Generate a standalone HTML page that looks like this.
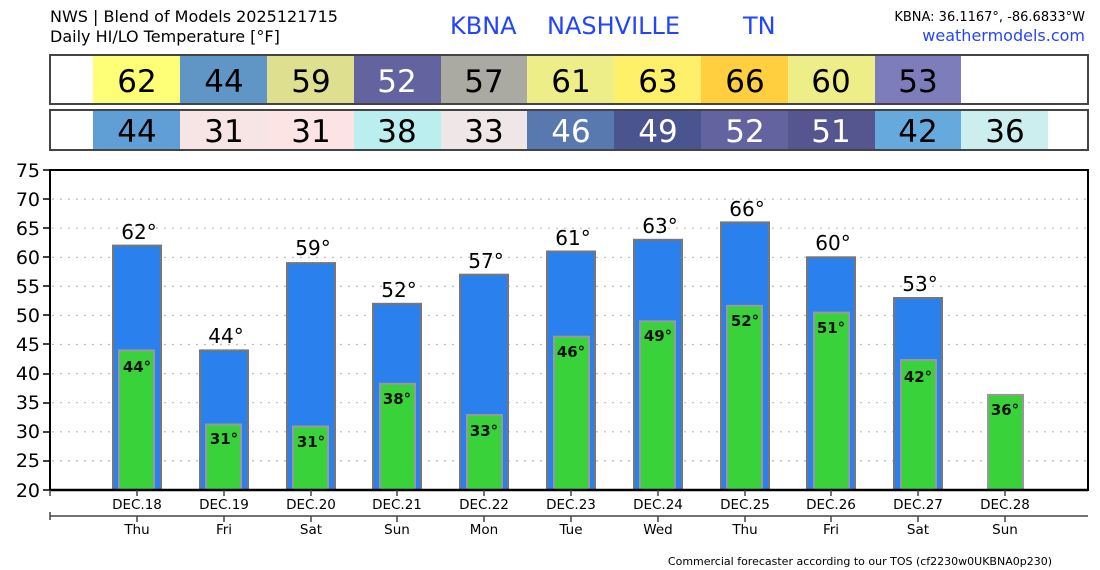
<!DOCTYPE html>
<html><head><meta charset="utf-8"><style>body{margin:0;background:#fff}svg{display:block}text{font-family:"DejaVu Sans","Liberation Sans",sans-serif}</style></head><body>
<svg width="1100" height="570" xmlns="http://www.w3.org/2000/svg">
<text x="50" y="22" font-size="16">NWS | Blend of Models 2025121715</text>
<text x="50" y="42" font-size="16">Daily HI/LO Temperature [°F]</text>
<text x="450" y="34" font-size="24" fill="#2244ff">KBNA</text>
<text x="547" y="34" font-size="24" fill="#2244ff">NASHVILLE</text>
<text x="743" y="34" font-size="24" fill="#2244ff">TN</text>
<text x="1085" y="21" font-size="13" text-anchor="end">KBNA: 36.1167°, -86.6833°W</text>
<text x="1085" y="41" font-size="16" text-anchor="end" fill="#2244ff">weathermodels.com</text>
<g id="t">
<rect x="50" y="55" width="1038" height="49" fill="#fff" stroke="#444" stroke-width="2"/>
<rect x="50" y="110" width="1038" height="40" fill="#fff" stroke="#444" stroke-width="2"/>
<g font-size="31" text-anchor="middle">
<rect x="93" y="56" width="87" height="47" fill="#ffff77"/><text x="137" y="92">62</text>
<rect x="180" y="56" width="87" height="47" fill="#6096c6"/><text x="224" y="92">44</text>
<rect x="267" y="56" width="87" height="47" fill="#dfdf90"/><text x="311" y="92">59</text>
<rect x="354" y="56" width="87" height="47" fill="#63639f"/><text x="397" y="92" fill="#fff">52</text>
<rect x="441" y="56" width="87" height="47" fill="#aaaaa2"/><text x="484" y="92">57</text>
<rect x="527" y="56" width="87" height="47" fill="#eeee88"/><text x="571" y="92">61</text>
<rect x="614" y="56" width="87" height="47" fill="#fff06a"/><text x="658" y="92">63</text>
<rect x="701" y="56" width="87" height="47" fill="#ffcf40"/><text x="745" y="92">66</text>
<rect x="788" y="56" width="87" height="47" fill="#eeee88"/><text x="831" y="92">60</text>
<rect x="875" y="56" width="86" height="47" fill="#7d7dbc"/><text x="918" y="92">53</text>
<rect x="93" y="111" width="87" height="38" fill="#5f9fd6"/><text x="137" y="142">44</text>
<rect x="180" y="111" width="87" height="38" fill="#f7e5e5"/><text x="224" y="142">31</text>
<rect x="267" y="111" width="87" height="38" fill="#fde4e4"/><text x="311" y="142">31</text>
<rect x="354" y="111" width="87" height="38" fill="#bbeeee"/><text x="397" y="142">38</text>
<rect x="441" y="111" width="87" height="38" fill="#efe7e7"/><text x="484" y="142">33</text>
<rect x="527" y="111" width="87" height="38" fill="#5878b0"/><text x="571" y="142" fill="#fff">46</text>
<rect x="614" y="111" width="87" height="38" fill="#4a5590"/><text x="658" y="142" fill="#fff">49</text>
<rect x="701" y="111" width="87" height="38" fill="#63639f"/><text x="745" y="142" fill="#fff">52</text>
<rect x="788" y="111" width="87" height="38" fill="#555590"/><text x="831" y="142" fill="#fff">51</text>
<rect x="875" y="111" width="86" height="38" fill="#66aadd"/><text x="918" y="142">42</text>
<rect x="961" y="111" width="87" height="38" fill="#cceeee"/><text x="1005" y="142">36</text>
</g></g>
<g stroke="#bbb" stroke-dasharray="2,6" stroke-width="1.2">
<line x1="52" x2="1087" y1="199.1" y2="199.1"/><line x1="52" x2="1087" y1="228.2" y2="228.2"/><line x1="52" x2="1087" y1="257.3" y2="257.3"/><line x1="52" x2="1087" y1="286.4" y2="286.4"/><line x1="52" x2="1087" y1="315.5" y2="315.5"/><line x1="52" x2="1087" y1="344.5" y2="344.5"/><line x1="52" x2="1087" y1="373.6" y2="373.6"/><line x1="52" x2="1087" y1="402.7" y2="402.7"/><line x1="52" x2="1087" y1="431.8" y2="431.8"/><line x1="52" x2="1087" y1="460.9" y2="460.9"/>
</g>
<g font-size="19" text-anchor="end">
<text x="40" y="177">75</text><text x="40" y="206">70</text><text x="40" y="235">65</text><text x="40" y="264">60</text><text x="40" y="293">55</text><text x="40" y="322">50</text><text x="40" y="351">45</text><text x="40" y="380">40</text><text x="40" y="409">35</text><text x="40" y="438">30</text><text x="40" y="467">25</text><text x="40" y="497">20</text>
</g>
<g stroke="#000" stroke-width="1.5"><line x1="43" x2="50" y1="170" y2="170"/><line x1="43" x2="50" y1="199" y2="199"/><line x1="43" x2="50" y1="228" y2="228"/><line x1="43" x2="50" y1="257" y2="257"/><line x1="43" x2="50" y1="286" y2="286"/><line x1="43" x2="50" y1="315" y2="315"/><line x1="43" x2="50" y1="344" y2="344"/><line x1="43" x2="50" y1="374" y2="374"/><line x1="43" x2="50" y1="403" y2="403"/><line x1="43" x2="50" y1="432" y2="432"/><line x1="43" x2="50" y1="461" y2="461"/><line x1="43" x2="50" y1="490" y2="490"/></g>
<g stroke="#777" stroke-width="2" fill="#2a80ec">
<rect x="113" y="245.6" width="48" height="244.4"/><rect x="200" y="350.4" width="48" height="139.6"/><rect x="287" y="263.1" width="48" height="226.9"/><rect x="373" y="303.8" width="48" height="186.2"/><rect x="460" y="274.7" width="48" height="215.3"/><rect x="547" y="251.5" width="48" height="238.5"/><rect x="634" y="239.8" width="48" height="250.2"/><rect x="721" y="222.4" width="48" height="267.6"/><rect x="807" y="257.3" width="48" height="232.7"/><rect x="894" y="298" width="48" height="192"/>
</g>
<g stroke="#999" stroke-width="2" fill="#3ad23a">
<rect x="119" y="350.4" width="35" height="139.6"/><rect x="206" y="424.5" width="35" height="65.5"/><rect x="293" y="426.5" width="35" height="63.5"/><rect x="380" y="383.8" width="35" height="106.2"/><rect x="467" y="415" width="35" height="75"/><rect x="554" y="336.7" width="35" height="153.3"/><rect x="640" y="321.3" width="35" height="168.7"/><rect x="727" y="305.8" width="35" height="184.2"/><rect x="814" y="312.6" width="35" height="177.4"/><rect x="901" y="360" width="35" height="130"/><rect x="988" y="394.9" width="35" height="95.1"/>
</g>
<g font-size="20" text-anchor="middle">
<text x="139" y="239">62°</text><text x="226" y="343">44°</text><text x="313" y="255">59°</text><text x="399" y="297">52°</text><text x="486" y="268">57°</text><text x="573" y="245">61°</text><text x="660" y="233">63°</text><text x="747" y="216">66°</text><text x="833" y="250">60°</text><text x="920" y="291">53°</text>
</g>
<g font-size="15" text-anchor="middle" font-weight="bold" fill="#111">
<text x="137" y="372">44°</text><text x="224" y="444">31°</text><text x="311" y="447">31°</text><text x="397" y="404">38°</text><text x="484" y="436">33°</text><text x="571" y="357">46°</text><text x="658" y="341">49°</text><text x="745" y="326">52°</text><text x="831" y="333">51°</text><text x="918" y="382">42°</text><text x="1005" y="415">36°</text>
</g>
<rect x="50" y="170" width="1038" height="320" fill="none" stroke="#000" stroke-width="2"/>
<line x1="50" x2="1088" y1="490" y2="490" stroke="#000" stroke-width="2.5"/>
<g stroke="#444" stroke-width="1.5">
<line x1="50" x2="50" y1="490" y2="496"/><line x1="50" x2="1088" y1="516" y2="516"/><line x1="50" x2="50" y1="512" y2="520"/>
<line x1="137" x2="137" y1="490" y2="496"/><line x1="224" x2="224" y1="490" y2="496"/><line x1="311" x2="311" y1="490" y2="496"/><line x1="397" x2="397" y1="490" y2="496"/><line x1="484" x2="484" y1="490" y2="496"/><line x1="571" x2="571" y1="490" y2="496"/><line x1="658" x2="658" y1="490" y2="496"/><line x1="745" x2="745" y1="490" y2="496"/><line x1="831" x2="831" y1="490" y2="496"/><line x1="918" x2="918" y1="490" y2="496"/><line x1="1005" x2="1005" y1="490" y2="496"/>
<line x1="137" x2="137" y1="516" y2="522"/><line x1="224" x2="224" y1="516" y2="522"/><line x1="311" x2="311" y1="516" y2="522"/><line x1="397" x2="397" y1="516" y2="522"/><line x1="484" x2="484" y1="516" y2="522"/><line x1="571" x2="571" y1="516" y2="522"/><line x1="658" x2="658" y1="516" y2="522"/><line x1="745" x2="745" y1="516" y2="522"/><line x1="831" x2="831" y1="516" y2="522"/><line x1="918" x2="918" y1="516" y2="522"/><line x1="1005" x2="1005" y1="516" y2="522"/>
</g>
<g font-size="13.5" text-anchor="middle">
<text x="137" y="509">DEC.18</text><text x="224" y="509">DEC.19</text><text x="311" y="509">DEC.20</text><text x="397" y="509">DEC.21</text><text x="484" y="509">DEC.22</text><text x="571" y="509">DEC.23</text><text x="658" y="509">DEC.24</text><text x="745" y="509">DEC.25</text><text x="831" y="509">DEC.26</text><text x="918" y="509">DEC.27</text><text x="1005" y="509">DEC.28</text>
<text x="137" y="534">Thu</text><text x="224" y="534">Fri</text><text x="311" y="534">Sat</text><text x="397" y="534">Sun</text><text x="484" y="534">Mon</text><text x="571" y="534">Tue</text><text x="658" y="534">Wed</text><text x="745" y="534">Thu</text><text x="831" y="534">Fri</text><text x="918" y="534">Sat</text><text x="1005" y="534">Sun</text>
</g>
<text x="1052" y="565" font-size="11" text-anchor="end" font-family="Liberation Sans,sans-serif">Commercial forecaster according to our TOS (cf2230w0UKBNA0p230)</text>
</svg>
</body></html>
